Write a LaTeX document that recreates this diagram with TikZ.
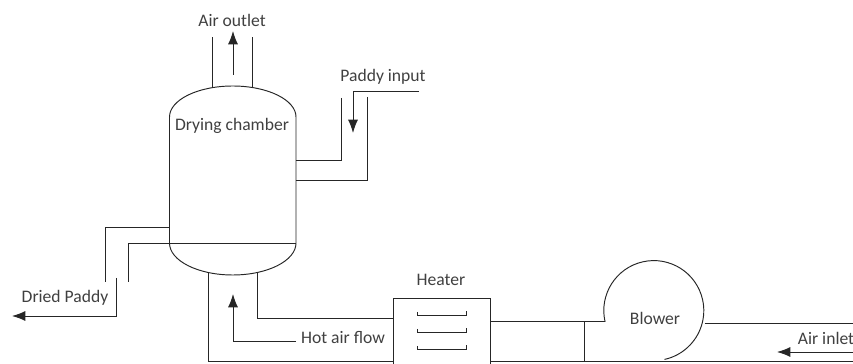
\documentclass[tikz,border=0pt]{standalone}
\usepackage{fontspec}
\setmainfont{Carlito}
\usepackage{tikz}
\usetikzlibrary{arrows.meta}

\begin{document}
\begin{tikzpicture}[
      x=0.75pt, y=0.75pt,
      every node/.style={font=\fontsize{13.2}{15}\selectfont, text=black!75, inner sep=0pt},
      pipe/.style={draw=black!85, line width=0.72pt},
      arr/.style={pipe, -{Latex[length=10pt,width=7.5pt]}},
    ]
    \useasboundingbox (0,0) rectangle (853,364);

    %% Drying chamber (shell, dished ends, divider)
    \coordinate (chamberTL) at (169.5,247);
    \coordinate (chamberTR) at (296,247);
    \coordinate (chamberBL) at (169.5,121);
    \coordinate (chamberBR) at (296,121);
    \draw[pipe] (chamberBL) -- (chamberTL) arc[start angle=180, end angle=0, x radius=63.25, y radius=31]
                -- (chamberBR) arc[start angle=0, end angle=-180, x radius=63.25, y radius=32];
    \draw[pipe] (chamberBL) -- (chamberBR);
    \node (chamberlbl) at (232,238) {Drying chamber};

    %% Air outlet
    \node (outletlbl) at (232,344) {Air outlet};
    \draw[pipe] (212,276) -- (212,327);
    \draw[pipe] (252,276) -- (252,327);
    \coordinate (outletA) at (233,289);
    \coordinate (outletB) at (233,333);
    \draw[arr] (outletA) -- (outletB);

    %% Paddy input
    \node (inputlbl) at (383,287) {Paddy input};
    \coordinate (inputA) at (419,273);
    \coordinate (inputB) at (353,273);
    \coordinate (inputC) at (353,231);
    \draw[arr] (inputA) -- (inputB) -- (inputC);
    \draw[pipe] (341.5,266) |- (296,204);
    \draw[pipe] (367,267) |- (296,184);

    %% Dried paddy
    \node (driedlbl) at (65,66) {Dried Paddy};
    \draw[pipe] (chamberBL |- 0,137) -| (105,82);
    \draw[pipe] (chamberBL) -| (128,82);
    \coordinate (driedA) at (116,86);
    \coordinate (driedB) at (116,48);
    \coordinate (driedC) at (12,48);
    \draw[arr] (driedA) -- (driedB) -- (driedC);

    %% Hot air flow
    \node (hotlbl) at (343,26) {Hot air flow};
    \coordinate (hotA) at (296,23);
    \coordinate (hotB) at (233,23);
    \coordinate (hotC) at (233,70);
    \draw[arr] (hotA) -- (hotB) -- (hotC);

    %% Heater
    \node (heaterlbl) at (441,84) {Heater};
    \coordinate (heaterTL) at (393,66);
    \coordinate (heaterTR) at (490,66);
    \draw[pipe] (393,0) -- (heaterTL) -- (heaterTR) -- (490,0);
    \foreach \ycoil in {49,32,15}
      \draw[pipe, line width=0.65pt] (417,\ycoil+3) -- (417,\ycoil) -- (466,\ycoil) -- (466,\ycoil+4);

    %% Duct from heater to chamber
    \draw[pipe] (208,91.5) |- (393,3);
    \draw[pipe] (257,91.5) |- (393,46);

    %% Blower
    \node (blowerlbl) at (655,46) {Blower};
    \coordinate (blowerA) at (605,42.5);
    \draw[pipe] (490,42.5) -- (blowerA) arc[start angle=192.6, end angle=-77.6, radius=50];
    \draw[pipe] (490,3) -- (853,3);
    \draw[pipe] (584,42.5) -- (584,3);

    %% Air inlet
    \node (inletlbl) at (826,26) {Air inlet};
    \draw[pipe] (704.5,40.5) -- (853,40.5);
    \coordinate (inletA) at (853,12);
    \coordinate (inletB) at (777,12);
    \draw[arr] (inletA) -- (inletB);
  \end{tikzpicture}
\end{document}
